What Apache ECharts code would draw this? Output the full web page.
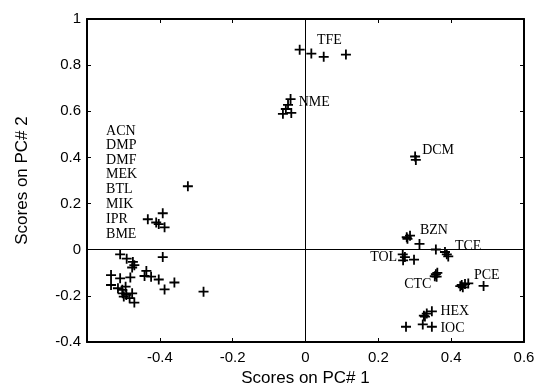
<!DOCTYPE html>
<html>
<head>
<meta charset="utf-8">
<script src="https://cdn.jsdelivr.net/npm/echarts@6/dist/echarts.min.js"></script>
<style>
html, body { margin: 0; padding: 0; background: #fff; }
#chart { width: 539px; height: 392px; }
</style>
</head>
<body>
<div id="chart"></div>
<script>
// scores, [PC1, PC2]
var leftCluster = [
	[-0.323, 0.275], [-0.392, 0.158], [-0.433, 0.132], [-0.410, 0.118], [-0.403, 0.111], [-0.387, 0.097],
	[-0.509, -0.020], [-0.491, -0.039], [-0.474, -0.053], [-0.470, -0.067], [-0.476, -0.077], [-0.392, -0.032],
	[-0.534, -0.110], [-0.509, -0.124], [-0.481, -0.120], [-0.437, -0.092], [-0.442, -0.114], [-0.424, -0.117],
	[-0.403, -0.129], [-0.360, -0.142], [-0.387, -0.172], [-0.280, -0.182], [-0.534, -0.153], [-0.515, -0.167],
	[-0.503, -0.174], [-0.494, -0.160], [-0.502, -0.189], [-0.492, -0.196], [-0.499, -0.203], [-0.476, -0.189],
	[-0.483, -0.210], [-0.470, -0.229]
];
var topCluster = [
	[-0.016, 0.867], [0.016, 0.850], [0.050, 0.836], [0.111, 0.846],
	[-0.041, 0.653], [-0.048, 0.628], [-0.054, 0.610], [-0.062, 0.589], [-0.039, 0.593]
];
var rightCluster = [
	[0.301, 0.404], [0.303, 0.389],
	[0.280, 0.047], [0.287, 0.061], [0.278, 0.054], [0.313, 0.025],
	[0.358, 0.001], [0.383, -0.010], [0.388, -0.020], [0.392, -0.029],
	[0.267, -0.020], [0.273, -0.032], [0.298, -0.043], [0.268, -0.046],
	[0.358, -0.106], [0.360, -0.117], [0.355, -0.115], [0.362, -0.100],
	[0.429, -0.153], [0.438, -0.149], [0.432, -0.163], [0.447, -0.146], [0.425, -0.158], [0.489, -0.157],
	[0.347, -0.267], [0.333, -0.277], [0.325, -0.286], [0.328, -0.290],
	[0.276, -0.334], [0.322, -0.324], [0.347, -0.334]
];
// solvent names and where they are written
var leftNames = ['ACN', 'DMP', 'DMF', 'MEK', 'BTL', 'MIK', 'IPR', 'BME'];
var leftNameY = [0.511, 0.453, 0.389, 0.327, 0.260, 0.196, 0.132, 0.068];
var rightLabels = [
	[0.030, 0.907, 'TFE'],
	[-0.020, 0.639, 'NME'],
	[0.319, 0.432, 'DCM'],
	[0.313, 0.083, 'BZN'],
	[0.409, 0.014, 'TCE'],
	[0.461, -0.110, 'PCE'],
	[0.369, -0.267, 'HEX'],
	[0.369, -0.339, 'IOC']
];
var leftLabels = [
	[0.253, -0.032, 'TOL'],
	[0.347, -0.149, 'CTC']
];

var plus = 'path://M4.1,0H5.9V4.1H10V5.9H5.9V10H4.1V5.9H0V4.1H4.1Z';
var serif = '"Liberation Serif", "DejaVu Serif", serif';
var sans = '"Liberation Sans", Arial, sans-serif';

var chart = echarts.init(document.getElementById('chart'));

function labelSeries(data, pos) {
	return {
		type: 'scatter',
		data: data,
		symbolSize: 1,
		silent: true,
		z: 5,
		itemStyle: { color: 'rgba(0,0,0,0)', opacity: 1 },
		label: {
			show: true,
			position: pos,
			distance: 0,
			opacity: 1,
			textBorderWidth: 0,
			formatter: function (p) { return p.value[2]; },
			fontFamily: serif,
			fontSize: 14,
			color: '#000'
		}
	};
}

var leftList = [];
for (var i = 0; i < leftNames.length; i++) {
	leftList.push([-0.549, leftNameY[i], leftNames[i]]);
}

var axisLine = { show: true, onZero: false, lineStyle: { color: '#000', width: 2 } };
var tick = { show: true, inside: true, length: 4, lineStyle: { color: '#000', width: 1 } };

var option = {
	animation: false,
	grid: { left: 87, right: 15, top: 19, bottom: 46 },
	xAxis: [{
		type: 'value', min: -0.6, max: 0.6, interval: 0.2,
		axisLine: axisLine, axisTick: tick, splitLine: { show: false },
		axisLabel: {
			color: '#000', fontFamily: sans, fontSize: 15, margin: 8,
			formatter: function (v) {
				if (Math.abs(v + 0.6) < 1e-6) return '';
				return String(Math.round(v * 10) / 10);
			}
		},
		name: 'Scores on PC# 1', nameLocation: 'middle', nameGap: 28,
		nameTextStyle: { color: '#000', fontFamily: sans, fontSize: 17 }
	}, {
		type: 'value', position: 'top', min: -0.6, max: 0.6, interval: 0.2,
		axisLine: axisLine, axisTick: tick, axisLabel: { show: false }, splitLine: { show: false }
	}],
	yAxis: [{
		type: 'value', min: -0.4, max: 1, interval: 0.2,
		axisLine: axisLine, axisTick: tick, splitLine: { show: false },
		axisLabel: {
			color: '#000', fontFamily: sans, fontSize: 15, margin: 6,
			formatter: function (v) { return String(Math.round(v * 10) / 10); }
		},
		name: 'Scores on PC# 2', nameLocation: 'middle', nameGap: 56,
		nameTextStyle: { color: '#000', fontFamily: sans, fontSize: 17 }
	}, {
		type: 'value', position: 'right', min: -0.4, max: 1, interval: 0.2,
		axisLine: axisLine, axisTick: tick, axisLabel: { show: false }, splitLine: { show: false }
	}],
	series: [
		{
			type: 'scatter',
			data: leftCluster.concat(topCluster, rightCluster),
			symbol: plus,
			symbolSize: 10,
			itemStyle: { color: '#000', opacity: 1 },
			markLine: {
				silent: true,
				symbol: 'none',
				label: { show: false },
				lineStyle: { color: '#000', width: 1, type: 'solid' },
				data: [{ xAxis: 0 }, { yAxis: 0 }]
			}
		},
		labelSeries(rightLabels, 'right'),
		labelSeries(leftLabels, 'left'),
		labelSeries(leftList, 'right')
	]
};

chart.setOption(option);
</script>
</body>
</html>
